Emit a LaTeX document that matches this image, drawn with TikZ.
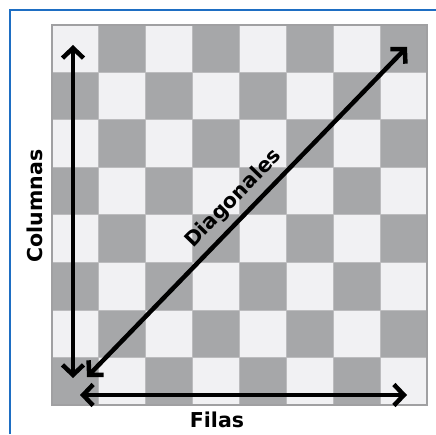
\documentclass[tikz,border=0pt]{standalone}
\usepackage{fontspec}
\setmainfont{DejaVu Sans}
\usepackage{xcolor}
\definecolor{bdblue}{RGB}{30,110,195}
\definecolor{sqdark}{RGB}{166,167,169}
\definecolor{sqlight}{RGB}{241,241,243}
\definecolor{sqline}{RGB}{188,188,190}
\definecolor{sqedge}{RGB}{160,160,162}
\usetikzlibrary{arrows.meta}

\begin{document}
\begin{tikzpicture}[x=1pt, y=1pt,
  sq/.style={fill=#1, draw=sqline, line width=1pt},
  arr/.style={{Straight Barb[length=10pt,width=21pt]}-{Straight Barb[length=10pt,width=21pt]},
              line width=4.5pt, draw=black},
  lbl/.style={font=\fontsize{20.5}{24}\selectfont\bfseries, text=black}
]
\useasboundingbox (0,0) rectangle (436,434);
\fill[white] (0,0) rectangle (436,434);

% Frame
\draw[bdblue, line width=1.5pt] (10,0) -- (10,424) -- (436,424);

% Board
\foreach \r in {0,...,7}
  \foreach \c in {0,...,7} {
    \pgfmathtruncatemacro{\odd}{mod(\r+\c,2)}
    \ifnum\odd=0 \def\sqcol{sqlight}\else\def\sqcol{sqdark}\fi
    \draw[sq=\sqcol] (52+\c*46.875, 409-\r*47.5) rectangle ++(46.875,-47.5);
  }
\draw[sqedge, line width=1.2pt] (52,29) rectangle (427,409);

% Arrow ends
\coordinate (colTop) at (73,389);
\coordinate (colBot) at (73,56);
\coordinate (diagBot) at (87,57);
\coordinate (diagTop) at (407,387);
\coordinate (rowLeft) at (80,39);
\coordinate (rowRight) at (407,39);

% Arrows
\draw[arr] (colBot) -- (colTop);
\draw[arr] (rowLeft) -- (rowRight);
\draw[arr] (diagBot) -- (diagTop)
  node[lbl, midway, sloped, above=3pt] (diagLbl) {Diagonales};

% Labels
\node[lbl, rotate=90] (colLbl) at (35,228) {Columnas};
\node[lbl] (rowLbl) at (217,14) {Filas};
\end{tikzpicture}
\end{document}
